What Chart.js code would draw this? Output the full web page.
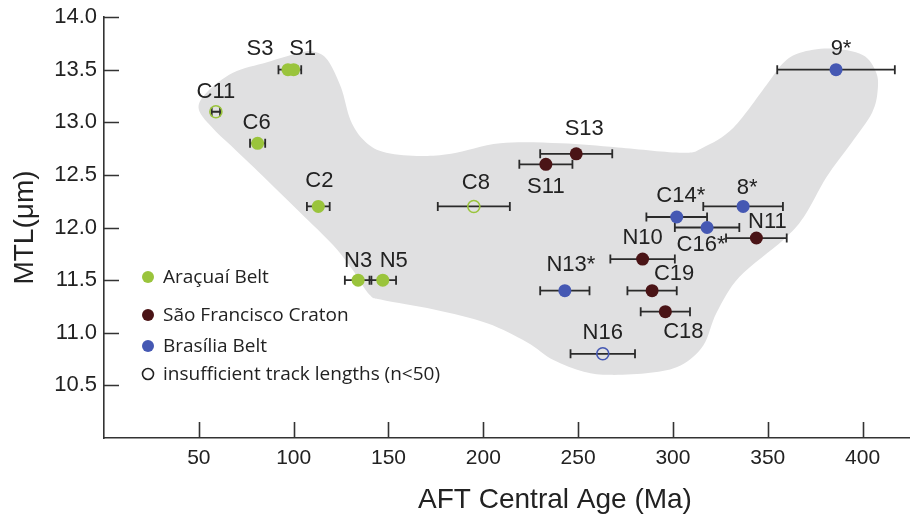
<!DOCTYPE html>
<html>
<head>
<meta charset="utf-8">
<script src="https://cdn.jsdelivr.net/npm/chart.js@4.4.0/dist/chart.umd.min.js"></script>
<style>
  html, body { margin: 0; padding: 0; background: #fff; }
  #wrap { width: 910px; height: 519px; }
</style>
</head>
<body>
<div id="wrap"><canvas id="chart" width="910" height="519"></canvas></div>
<script>
// -------------------------
// DATA
// -------------------------
const araNames = ["S3", "S1", "C11", "C6", "C2", "C8", "N3", "N5"];
const araAge   = [97, 100, 59, 81, 113, 195, 134, 147];
const araMtl   = [13.5, 13.5, 13.1, 12.8, 12.2, 12.2, 11.5, 11.5];
const araErr   = [5, 4, 2.2, 4, 6, 19, 7, 7];
const araOpen  = [false, false, true, false, false, true, false, false];

const sfcNames = ["S13", "S11", "N10", "N11", "C19", "C18"];
const sfcAge   = [249, 233, 284, 344, 289, 296];
const sfcMtl   = [12.7, 12.6, 11.7, 11.9, 11.4, 11.2];
const sfcErr   = [19, 14, 17, 16, 13, 13];
const sfcOpen  = [false, false, false, false, false, false];

const braNames = ["9*", "8*", "C14*", "C16*", "N13*", "N16"];
const braAge   = [386, 337, 302, 318, 243, 263];
const braMtl   = [13.5, 12.2, 12.1, 12.0, 11.4, 10.8];
const braErr   = [31, 21, 16, 17, 13, 17];
const braOpen  = [false, false, false, false, false, true];

// grey envelope outline (age, MTL)
const blobAge = [50, 54, 68, 86, 103, 111, 118, 125, 130, 137, 147, 165, 183, 209, 241,
                 271, 305, 316, 332, 350, 358, 367, 383, 400, 407, 408, 405, 394, 381, 369,
                 358, 335, 323, 316, 304, 288, 267, 253, 237, 223, 202, 174, 147, 140, 131,
                 121, 103, 86, 68, 58];
const blobMtl = [13.12, 13.28, 13.47, 13.57, 13.66, 13.67, 13.59, 13.33, 13.02, 12.83, 12.72,
                 12.68, 12.70, 12.80, 12.80, 12.76, 12.71, 12.76, 12.95, 13.37, 13.56, 13.66,
                 13.70, 13.64, 13.48, 13.31, 13.09, 12.80, 12.48, 12.10, 11.88, 11.53, 11.19,
                 10.88, 10.69, 10.62, 10.60, 10.63, 10.74, 10.91, 11.09, 11.22, 11.31, 11.36,
                 11.60, 11.83, 12.15, 12.45, 12.76, 12.93];

const xTickValues = [50, 100, 150, 200, 250, 300, 350, 400];
const yTickValues = [10.5, 11.0, 11.5, 12.0, 12.5, 13.0, 13.5, 14.0];

const legendNames = ["Araçuaí Belt", "São Francisco Craton", "Brasília Belt",
                     "insufficient track lengths (n<50)"];
const xTitle = "AFT Central Age (Ma)";
const yTitle = "MTL(μm)";

// -------------------------
// STYLE / LAYOUT
// -------------------------
const GREEN = "#9ac43c";
const MAROON = "#4a1416";
const BLUE = "#4558b3";
const INK = "#222";
const SANS = "'Liberation Sans', Arial, sans-serif";

// label offsets (px) from point centre
const araLabelOff = [[-28, -21], [9, -21], [0, -20], [-1, -20], [1, -26], [2, -24], [0, -19], [11, -19]];
const sfcLabelOff = [[8, -25], [0, 23], [0, -21], [11, -16], [22, -17], [18, 20]];
const braLabelOff = [[5, -21], [4, -19], [4, -21], [-6, 17], [6, -26], [0, -21]];

function makeSet(label, color, names, ages, mtls, errs, open, offs) {
  return {
    label,
    data: ages.map((a, i) => ({ x: a, y: mtls[i] })),
    names, errs, offs,
    pointRadius: open.map(o => o ? 6 : 6.5),
    pointBackgroundColor: open.map(o => o ? "rgba(0,0,0,0)" : color),
    pointBorderColor: color,
    pointBorderWidth: open.map(o => o ? 1.6 : 0),
    showLine: false
  };
}

// -------------------------
// PLUGINS
// -------------------------
const blobPlugin = {
  id: "blob",
  beforeDatasetsDraw(chart) {
    const { ctx, scales: { x, y } } = chart;
    const pts = blobAge.map((a, i) => [x.getPixelForValue(a), y.getPixelForValue(blobMtl[i])]);
    const n = pts.length;
    ctx.save();
    ctx.beginPath();
    ctx.moveTo(pts[0][0], pts[0][1]);
    for (let i = 0; i < n; i++) {
      const p0 = pts[(i - 1 + n) % n], p1 = pts[i], p2 = pts[(i + 1) % n], p3 = pts[(i + 2) % n];
      ctx.bezierCurveTo(
        p1[0] + (p2[0] - p0[0]) / 6, p1[1] + (p2[1] - p0[1]) / 6,
        p2[0] - (p3[0] - p1[0]) / 6, p2[1] - (p3[1] - p1[1]) / 6,
        p2[0], p2[1]);
    }
    ctx.closePath();
    ctx.fillStyle = "#e0e0e1";
    ctx.fill();

    // horizontal error bars
    ctx.strokeStyle = "#2a2a2a";
    ctx.lineWidth = 1.8;
    chart.data.datasets.forEach(ds => {
      ds.data.forEach((p, i) => {
        const yy = y.getPixelForValue(p.y);
        const x0 = x.getPixelForValue(p.x - ds.errs[i]);
        const x1 = x.getPixelForValue(p.x + ds.errs[i]);
        ctx.beginPath();
        ctx.moveTo(x0, yy); ctx.lineTo(x1, yy);
        ctx.moveTo(x0, yy - 4.5); ctx.lineTo(x0, yy + 4.5);
        ctx.moveTo(x1, yy - 4.5); ctx.lineTo(x1, yy + 4.5);
        ctx.stroke();
      });
    });
    ctx.restore();
  }
};

const labelPlugin = {
  id: "pointLabels",
  afterDatasetsDraw(chart) {
    const ctx = chart.ctx;
    ctx.save();
    ctx.font = "22px " + SANS;
    ctx.fillStyle = INK;
    ctx.textAlign = "center";
    ctx.textBaseline = "middle";
    chart.data.datasets.forEach((ds, di) => {
      const meta = chart.getDatasetMeta(di);
      meta.data.forEach((el, i) => {
        ctx.fillText(ds.names[i], el.x + ds.offs[i][0], el.y + ds.offs[i][1]);
      });
    });
    ctx.restore();
  }
};

const axisExtras = {
  id: "axisExtras",
  afterDraw(chart) {
    const { ctx, chartArea, scales: { x, y } } = chart;
    ctx.save();
    // inward tick marks
    ctx.strokeStyle = "#333";
    ctx.lineWidth = 1.6;
    ctx.beginPath();
    xTickValues.forEach(v => {
      const px = Math.round(x.getPixelForValue(v)) + 0.5;
      ctx.moveTo(px, chartArea.bottom); ctx.lineTo(px, chartArea.bottom - 16);
    });
    yTickValues.forEach(v => {
      const py = Math.round(y.getPixelForValue(v)) + 0.5;
      ctx.moveTo(chartArea.left, py); ctx.lineTo(chartArea.left + 15, py);
    });
    ctx.stroke();

    // x title
    ctx.fillStyle = INK;
    ctx.font = "28px " + SANS;
    ctx.textAlign = "center";
    ctx.textBaseline = "middle";
    ctx.fillText(xTitle, 555, 500);

    // legend
    const colors = [GREEN, MAROON, BLUE];
    const rows = [277, 315, 346, 374];
    ctx.font = "19px 'Open Sans', sans-serif";
    ctx.textAlign = "left";
    legendNames.forEach((name, i) => {
      ctx.beginPath();
      if (i < 3) {
        ctx.arc(148, rows[i], 6, 0, Math.PI * 2);
        ctx.fillStyle = colors[i];
        ctx.fill();
      } else {
        ctx.arc(148, rows[i], 5.5, 0, Math.PI * 2);
        ctx.strokeStyle = INK;
        ctx.lineWidth = 1.6;
        ctx.stroke();
      }
      ctx.fillStyle = INK;
      ctx.fillText(name, 163, rows[i] + 1);
    });
    ctx.restore();
  }
};

// -------------------------
// CHART
// -------------------------
new Chart(document.getElementById("chart"), {
  type: "scatter",
  data: {
    datasets: [
      makeSet(legendNames[0], GREEN, araNames, araAge, araMtl, araErr, araOpen, araLabelOff),
      makeSet(legendNames[1], MAROON, sfcNames, sfcAge, sfcMtl, sfcErr, sfcOpen, sfcLabelOff),
      makeSet(legendNames[2], BLUE, braNames, braAge, braMtl, braErr, braOpen, braLabelOff)
    ]
  },
  options: {
    responsive: false,
    animation: false,
    layout: { autoPadding: false, padding: { top: 17, left: 0, right: 0, bottom: 0 } },
    plugins: { legend: { display: false }, tooltip: { enabled: false } },
    scales: {
      x: {
        type: "linear",
        min: 0,
        max: 425,
        afterBuildTicks: s => { s.ticks = xTickValues.map(v => ({ value: v })); },
        afterFit: s => { s.height = 81; s.paddingLeft = 0; s.paddingRight = 0; },
        grid: { display: true, drawOnChartArea: false, drawTicks: false },
        border: { color: "#333", width: 1.6 },
        ticks: { font: { family: SANS, size: 21 }, color: INK, padding: 8, maxRotation: 0 },
        title: { display: false }
      },
      y: {
        type: "linear",
        min: 10,
        max: 14,
        afterBuildTicks: s => { s.ticks = yTickValues.map(v => ({ value: v })); },
        afterFit: s => { s.width = 104; s.paddingTop = 0; s.paddingBottom = 0; },
        grid: { display: true, drawOnChartArea: false, drawTicks: false },
        border: { color: "#333", width: 1.6 },
        ticks: { font: { family: SANS, size: 22 }, color: INK, padding: 7,
                 callback: v => Number(v).toFixed(1) },
        title: {
          display: true,
          text: yTitle,
          color: INK,
          font: { family: SANS, size: 28 },
          padding: { top: 8, bottom: 0 }
        }
      }
    }
  },
  plugins: [blobPlugin, labelPlugin, axisExtras]
});
</script>
</body>
</html>
